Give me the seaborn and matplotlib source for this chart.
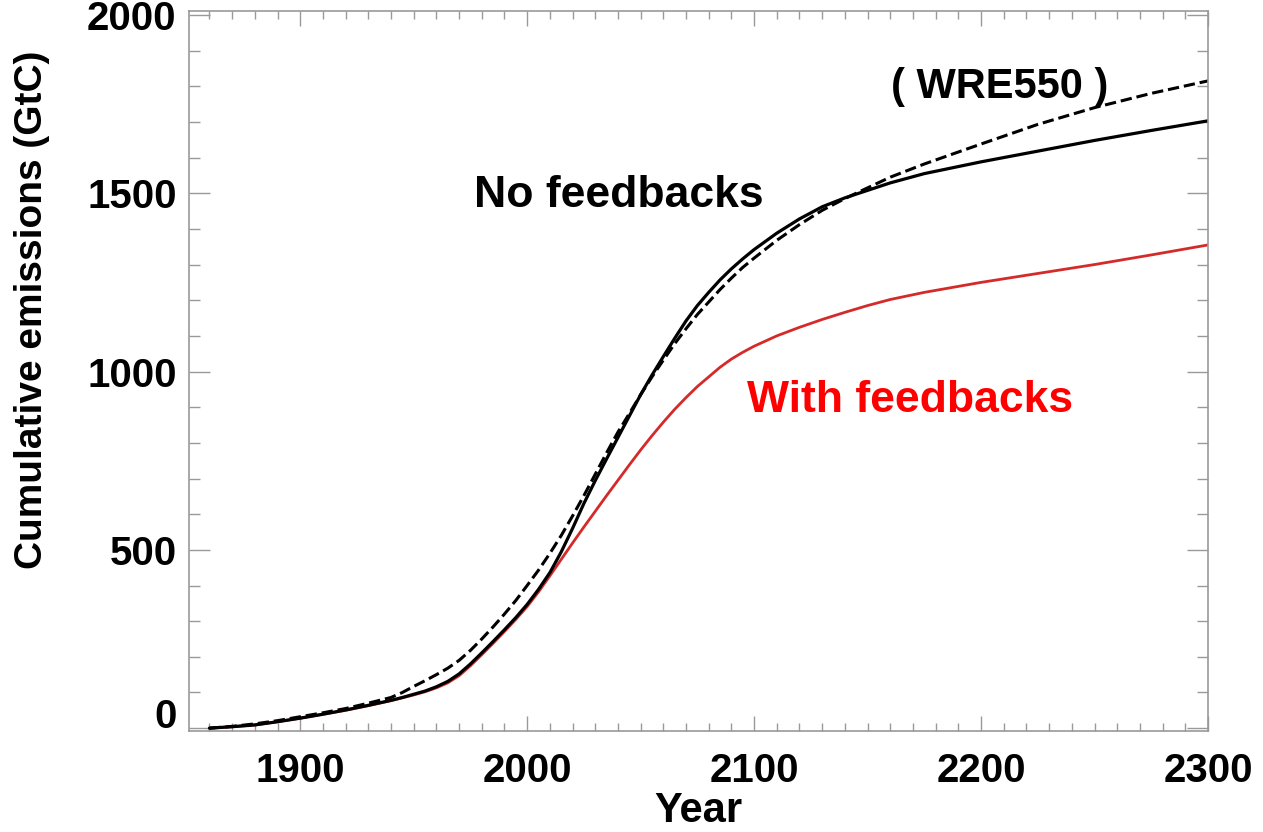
import matplotlib
matplotlib.use("Agg")
import matplotlib.pyplot as plt
import seaborn as sns
import pandas as pd
from matplotlib.ticker import MultipleLocator

years = [1860, 1870, 1880, 1890, 1900, 1910, 1920, 1930, 1940, 1945, 1950, 1955,
         1960, 1965, 1970, 1975, 1980, 1985, 1990, 1995, 2000, 2005, 2010, 2015,
         2020, 2025, 2030, 2035, 2040, 2045, 2050, 2055, 2060, 2065, 2070, 2075,
         2080, 2085, 2090, 2095, 2100, 2110, 2120, 2130, 2140, 2150, 2160, 2175,
         2200, 2225, 2250, 2275, 2300]

no_feedbacks = [0, 4, 9, 18, 28, 39, 51, 64, 78, 86, 95, 104,
                116, 131, 152, 180, 211, 243, 276, 310, 347, 389, 436, 494,
                560, 630, 694, 755, 815, 875, 935, 990, 1042, 1093, 1142, 1185,
                1222, 1257, 1288, 1316, 1342, 1388, 1428, 1462, 1487, 1508, 1529, 1555,
                1588, 1618, 1648, 1676, 1703]

wre550 = [0, 5, 12, 21, 32, 43, 55, 70, 86, 100, 117, 133,
          150, 168, 190, 218, 250, 284, 320, 358, 400, 443, 490, 540,
          595, 652, 712, 772, 830, 882, 935, 985, 1032, 1078, 1120, 1160,
          1195, 1230, 1262, 1292, 1318, 1368, 1412, 1452, 1485, 1515, 1545, 1582,
          1638, 1693, 1740, 1780, 1815]

with_feedbacks = [0, 4, 9, 18, 28, 39, 50, 63, 77, 85, 93, 102,
                  113, 127, 147, 175, 206, 238, 271, 305, 341, 382, 427, 473,
                  519, 564, 608, 652, 695, 738, 780, 820, 858, 894, 927, 958,
                  985, 1012, 1035, 1054, 1071, 1100, 1124, 1146, 1166, 1185, 1202, 1222,
                  1250, 1275, 1300, 1327, 1355]

df = pd.DataFrame({"Year": years, "No feedbacks": no_feedbacks,
                   "WRE550": wre550, "With feedbacks": with_feedbacks})

sns.set_style("ticks")
plt.rcParams["font.family"] = ["Liberation Sans", "DejaVu Sans"]
plt.rcParams["font.weight"] = "bold"
plt.rcParams["text.color"] = "black"
plt.rcParams["axes.labelcolor"] = "black"

fig = plt.figure(figsize=(12.63, 8.32), dpi=100)
ax = fig.add_axes([189 / 1263, 1 - 731 / 832, (1208 - 189) / 1263, (731 - 11) / 832])

sns.lineplot(data=df, x="Year", y="With feedbacks", ax=ax, color="#d42a2a", lw=2.0)
sns.lineplot(data=df, x="Year", y="No feedbacks", ax=ax, color="black", lw=2.3)
sns.lineplot(data=df, x="Year", y="WRE550", ax=ax, color="black", lw=2.2,
             dashes=(3.4, 2.2), linestyle="--")

ax.set_xlim(1851, 2300)
ax.set_ylim(-8, 2011)
ax.set_xticks([1900, 2000, 2100, 2200, 2300])
ax.set_yticks([0, 500, 1000, 1500, 2000])
ax.xaxis.set_minor_locator(MultipleLocator(10))
ax.yaxis.set_minor_locator(MultipleLocator(100))

gray = "#999999"
for sp in ax.spines.values():
    sp.set_visible(True)
    sp.set_color(gray)
    sp.set_linewidth(1.2)

ax.tick_params(axis="both", which="both", direction="in", top=True, right=True,
               color=gray, width=1.0, labelcolor="black")
ax.tick_params(axis="x", which="major", length=11, pad=15, labelsize=29)
ax.tick_params(axis="x", which="minor", length=5.5)
ax.tick_params(axis="y", which="major", length=15, pad=9, labelsize=29)
ax.tick_params(axis="y", which="minor", length=8)
for lab in ax.get_xticklabels() + ax.get_yticklabels():
    lab.set_fontweight("bold")
ylabs = ax.get_yticklabels()
ylabs[0].set_va("baseline")

ax.set_xlabel("Year", fontsize=30, fontweight="bold", color="black")
ax.set_ylabel("Cumulative emissions (GtC)", fontsize=28, fontweight="bold", color="black")
ax.xaxis.set_label_coords(0.5, -0.084)
ax.yaxis.set_label_coords(-0.136, 0.585)

ax.text(2040.5, 1495, "No feedbacks", fontsize=32, fontweight="bold",
        color="black", ha="center", va="center")
ax.text(2168.7, 920, "With feedbacks", fontsize=32, fontweight="bold",
        color="#ff0000", ha="center", va="center")
ax.text(2208, 1798, "( WRE550 )", fontsize=30, fontweight="bold",
        color="black", ha="center", va="center")

fig.savefig("out.png", dpi=100, facecolor="white")
